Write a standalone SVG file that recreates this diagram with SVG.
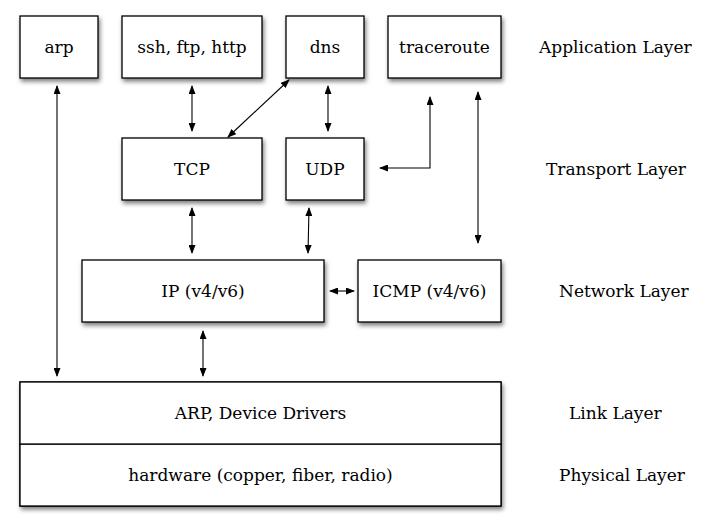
<svg xmlns="http://www.w3.org/2000/svg" width="703" height="530" viewBox="0 0 703 530">
<defs>
<filter id="sh" x="-10%" y="-10%" width="130%" height="140%">
<feDropShadow dx="1.5" dy="3" stdDeviation="2" flood-color="#000" flood-opacity="0.5"/>
</filter>
<marker id="ah" markerUnits="userSpaceOnUse" markerWidth="9" markerHeight="7" refX="8" refY="3.5" orient="auto-start-reverse">
<path d="M0,0 L9,3.5 L0,7 z" fill="#000"/>
</marker>
<style>
.box{fill:#fff;stroke:#000;stroke-width:1.3;filter:url(#sh)}
.flat{fill:#fff;stroke:#000;stroke-width:1.3}
.t{font-family:"DejaVu Serif","Liberation Serif",serif;font-size:17px;fill:#000;text-anchor:middle}
.l{font-family:"DejaVu Serif","Liberation Serif",serif;font-size:17px;fill:#000}
.c{fill:none;stroke:#000;stroke-width:1.1;marker-start:url(#ah);marker-end:url(#ah)}
</style>
</defs>
<rect width="703" height="530" fill="#fff"/>

<g id="arp"><rect class="box" x="20" y="16" width="78" height="62"/><text class="t" x="59" y="53">arp</text></g>
<g id="ssh"><rect class="box" x="122" y="16" width="140" height="62"/><text class="t" x="192" y="53">ssh, ftp, http</text></g>
<g id="dns"><rect class="box" x="286" y="16" width="78" height="62"/><text class="t" x="325" y="53">dns</text></g>
<g id="traceroute"><rect class="box" x="388" y="16" width="113" height="62"/><text class="t" x="444.5" y="53">traceroute</text></g>
<g id="tcp"><rect class="box" x="122" y="138" width="140" height="62"/><text class="t" x="192" y="175">TCP</text></g>
<g id="udp"><rect class="box" x="286" y="138" width="78" height="62"/><text class="t" x="325" y="175">UDP</text></g>
<g id="ip"><rect class="box" x="82" y="260" width="242" height="62"/><text class="t" x="203" y="297">IP (v4/v6)</text></g>
<g id="icmp"><rect class="box" x="358" y="260" width="143" height="62"/><text class="t" x="429.5" y="297">ICMP (v4/v6)</text></g>
<g id="physical"><rect class="box" x="20" y="382" width="481" height="124"/><rect class="flat" x="20" y="444" width="481" height="62"/><text class="t" x="260.5" y="481">hardware (copper, fiber, radio)</text></g>
<g id="link"><rect class="flat" x="20" y="382" width="481" height="62"/><text class="t" x="260.5" y="419">ARP, Device Drivers</text></g>

<g id="layer-labels">
<text class="l" x="539" y="53">Application Layer</text>
<text class="l" x="546" y="175">Transport Layer</text>
<text class="l" x="559" y="297">Network Layer</text>
<text class="l" x="569" y="419">Link Layer</text>
<text class="l" x="559" y="481">Physical Layer</text>
</g>

<g id="connectors">
<line class="c" x1="57" y1="86" x2="57" y2="376"/>
<line class="c" x1="192" y1="86" x2="192" y2="131"/>
<line class="c" x1="289" y1="80" x2="228" y2="137"/>
<line class="c" x1="328" y1="86" x2="328" y2="131"/>
<polyline class="c" points="430,97 430,168 380,168"/>
<line class="c" x1="478" y1="92" x2="478" y2="243"/>
<line class="c" x1="192" y1="208" x2="192" y2="253"/>
<line class="c" x1="309" y1="208" x2="308" y2="253"/>
<line class="c" x1="330" y1="291" x2="354" y2="291"/>
<line class="c" x1="203" y1="331" x2="203" y2="376"/>
</g>
</svg>
